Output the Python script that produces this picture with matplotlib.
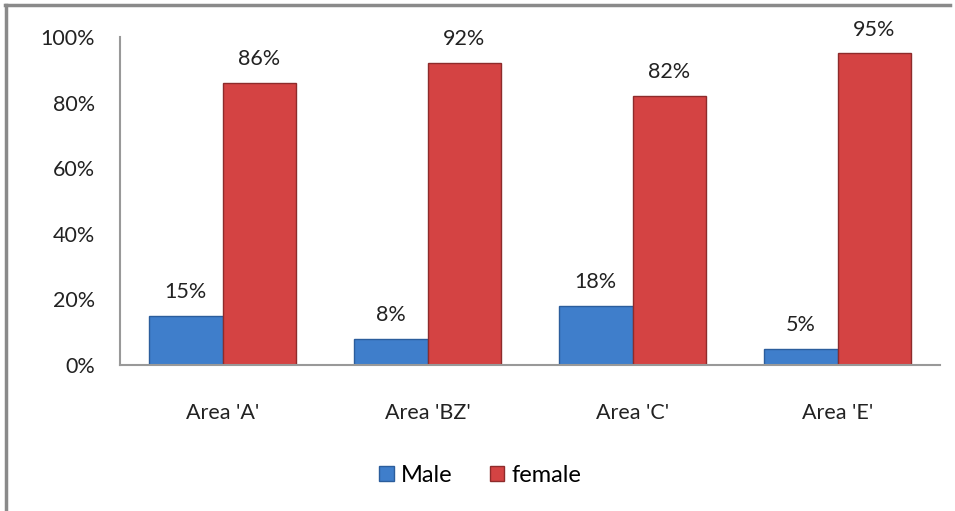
import numpy as np
import matplotlib.pyplot as plt
from matplotlib.lines import Line2D

areas = ["Area 'A'", "Area 'BZ'", "Area 'C'", "Area 'E'"]
male = [15, 8, 18, 5]
female = [86, 92, 82, 95]

plt.rcParams['font.family'] = ['Lato', 'DejaVu Sans']

fig = plt.figure(figsize=(9.55, 5.11), dpi=100)
ax = fig.add_axes([0.1257, 0.2857, 0.8586, 0.6419])

x = np.arange(len(areas))
w = 0.36
b1 = ax.bar(x - w / 2, male, w, color='#3f7ecb', edgecolor='#2b5d9c', linewidth=1.0, label='Male')
b2 = ax.bar(x + w / 2, female, w, color='#d44343', edgecolor='#8e2b2b', linewidth=1.0, label='female')

for rects, vals in ((b1, male), (b2, female)):
    for r, v in zip(rects, vals):
        ax.annotate("{}%".format(v), (r.get_x() + r.get_width() / 2, v),
                    xytext=(0, 10), textcoords='offset points',
                    ha='center', va='bottom', fontsize=15.5, color='#222222')

ax.set_xlim(-0.5, 3.5)
ax.set_ylim(0, 100)
ax.set_yticks([0, 20, 40, 60, 80, 100])
ax.set_yticklabels(["{}%".format(t) for t in [0, 20, 40, 60, 80, 100]])
ax.set_xticks(x)
ax.set_xticklabels(areas)
ax.tick_params(axis='both', length=0, labelsize=15.5, colors='#222222')
ax.tick_params(axis='y', pad=18)
ax.tick_params(axis='x', pad=27)
for s in ['top', 'right']:
    ax.spines[s].set_visible(False)
ax.spines['left'].set_color('#999999')
ax.spines['bottom'].set_color('#999999')
ax.spines['left'].set_linewidth(1.5)
ax.spines['bottom'].set_linewidth(1.5)

fig.legend(handles=[b1, b2], loc='center', bbox_to_anchor=(0.503, 0.07), ncol=2,
           frameon=False, fontsize=17, handlelength=0.6, handleheight=0.6,
           handletextpad=0.3, columnspacing=1.6)

# outer frame (top and left only)
fig.add_artist(Line2D([0.005, 0.995], [0.99, 0.99], transform=fig.transFigure, color='#8a8a8a', lw=2.5))
fig.add_artist(Line2D([0.006, 0.006], [0.0, 0.99], transform=fig.transFigure, color='#8a8a8a', lw=2.5))

fig.savefig('out.png', dpi=100)
